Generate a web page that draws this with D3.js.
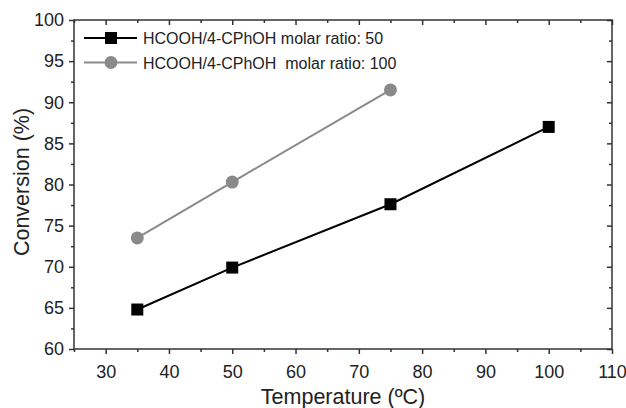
<!DOCTYPE html>
<html>
<head>
<meta charset="utf-8">
<script src="https://cdn.jsdelivr.net/npm/d3@7"></script>
<style>
    body { margin: 0; background: #fff; }
    text { font-family: "Liberation Sans", Arial, sans-serif; fill: #222; }
</style>
</head>
<body>
<div id="chart"></div>
<script>
"use strict";

// data
const temps50 = [35, 50, 75, 100];
const conv50 = [64.8, 69.9, 77.6, 87.0];
const temps100 = [35, 50, 75];
const conv100 = [73.5, 80.3, 91.5];
const seriesNames = [
    "HCOOH/4-CPhOH molar ratio: 50",
    "HCOOH/4-CPhOH  molar ratio: 100",
];
const xTicks = [30, 40, 50, 60, 70, 80, 90, 100, 110];
const yTicks = [60, 65, 70, 75, 80, 85, 90, 95, 100];

const svgWidth = 626;
const svgHeight = 408;
const margin = { top: 20, right: 14, bottom: 59, left: 74 };

const svg = d3
    .select("#chart")
    .append("svg")
    .attr("width", svgWidth)
    .attr("height", svgHeight);

const xScale = d3
    .scaleLinear()
    .domain([25, 110])
    .range([margin.left, svgWidth - margin.right]);

const yScale = d3
    .scaleLinear()
    .domain([60, 100])
    .range([svgHeight - margin.bottom, margin.top]);

const axisColor = "#333";
const x0 = xScale.range()[0], x1 = xScale.range()[1];
const y0 = yScale.range()[0], y1 = yScale.range()[1];

const xMinor = d3.range(25, 110, 10);
const yMinor = d3.range(62.5, 100, 5);

function styleAxis(g) {
    g.select(".domain").remove();
    g.selectAll("line").attr("stroke", axisColor).attr("stroke-width", 1.5);
    g.selectAll("text")
        .style("font-size", "18px")
        .style("font-family", "Liberation Sans, Arial, sans-serif")
        .attr("fill", "#222");
}

// bottom axis, ticks out
svg.append("g")
    .attr("transform", `translate(0, ${y0})`)
    .call(d3.axisBottom(xScale).tickValues(xTicks).tickSize(5).tickPadding(11).tickFormat(d3.format("d")))
    .call(styleAxis);
svg.append("g")
    .attr("transform", `translate(0, ${y0})`)
    .call(d3.axisBottom(xScale).tickValues(xMinor).tickSize(3).tickFormat(""))
    .call(styleAxis);

// left axis, ticks out
svg.append("g")
    .attr("transform", `translate(${x0}, 0)`)
    .call(d3.axisLeft(yScale).tickValues(yTicks).tickSize(5).tickPadding(5).tickFormat(d3.format("d")))
    .call(styleAxis);
svg.append("g")
    .attr("transform", `translate(${x0}, 0)`)
    .call(d3.axisLeft(yScale).tickValues(yMinor).tickSize(3).tickFormat(""))
    .call(styleAxis);

// top axis, ticks in
svg.append("g")
    .attr("transform", `translate(0, ${y1})`)
    .call(d3.axisBottom(xScale).tickValues(xTicks).tickSize(5).tickFormat(""))
    .call(styleAxis);
svg.append("g")
    .attr("transform", `translate(0, ${y1})`)
    .call(d3.axisBottom(xScale).tickValues(xMinor).tickSize(3).tickFormat(""))
    .call(styleAxis);

// right axis, ticks in
svg.append("g")
    .attr("transform", `translate(${x1}, 0)`)
    .call(d3.axisLeft(yScale).tickValues(yTicks).tickSize(5).tickFormat(""))
    .call(styleAxis);
svg.append("g")
    .attr("transform", `translate(${x1}, 0)`)
    .call(d3.axisLeft(yScale).tickValues(yMinor).tickSize(3).tickFormat(""))
    .call(styleAxis);

// frame
svg.append("rect")
    .attr("x", x0)
    .attr("y", y1)
    .attr("width", x1 - x0)
    .attr("height", y0 - y1)
    .attr("fill", "none")
    .attr("stroke", axisColor)
    .attr("stroke-width", 1.5);

// axis titles
svg.append("text")
    .attr("x", (x0 + x1) / 2)
    .attr("y", 404)
    .attr("text-anchor", "middle")
    .style("font-size", "21.5px")
    .text("Temperature (ºC)");

svg.append("text")
    .attr("transform", `translate(29, 182) rotate(-90)`)
    .attr("text-anchor", "middle")
    .style("font-size", "21.5px")
    .text("Conversion (%)");

const line = d3.line().x(d => xScale(d[0])).y(d => yScale(d[1]));

const pts50 = temps50.map((t, i) => [t, conv50[i]]);
const pts100 = temps100.map((t, i) => [t, conv100[i]]);

const black = "#000";
const gray = "#8a8a8a";

// ratio 100 series (gray circles)
svg.append("path")
    .datum(pts100)
    .attr("d", line)
    .attr("fill", "none")
    .attr("stroke", gray)
    .attr("stroke-width", 2);
svg.selectAll(".dot100")
    .data(pts100)
    .enter()
    .append("circle")
    .attr("class", "dot100")
    .attr("cx", d => xScale(d[0]))
    .attr("cy", d => yScale(d[1]))
    .attr("r", 6.5)
    .attr("fill", gray);

// ratio 50 series (black squares)
svg.append("path")
    .datum(pts50)
    .attr("d", line)
    .attr("fill", "none")
    .attr("stroke", black)
    .attr("stroke-width", 2);
svg.selectAll(".sq50")
    .data(pts50)
    .enter()
    .append("rect")
    .attr("class", "sq50")
    .attr("x", d => xScale(d[0]) - 6)
    .attr("y", d => yScale(d[1]) - 6)
    .attr("width", 12)
    .attr("height", 12)
    .attr("fill", black);

// legend
const legend = svg.append("g");
const legendRows = [
    { name: seriesNames[0], color: black, shape: "square", y: 38 },
    { name: seriesNames[1], color: gray, shape: "circle", y: 62.5 },
];
legendRows.forEach(r => {
    legend.append("line")
        .attr("x1", 84).attr("x2", 137)
        .attr("y1", r.y).attr("y2", r.y)
        .attr("stroke", r.color)
        .attr("stroke-width", 2);
    if (r.shape === "square") {
        legend.append("rect")
            .attr("x", 105).attr("y", r.y - 6)
            .attr("width", 12).attr("height", 12)
            .attr("fill", r.color);
    } else {
        legend.append("circle")
            .attr("cx", 111).attr("cy", r.y)
            .attr("r", 6.5)
            .attr("fill", r.color);
    }
    legend.append("text")
        .attr("x", 143)
        .attr("y", r.y + 6)
        .style("font-size", "16px")
        .style("white-space", "pre")
        .attr("xml:space", "preserve")
        .text(r.name);
});
</script>
</body>
</html>
